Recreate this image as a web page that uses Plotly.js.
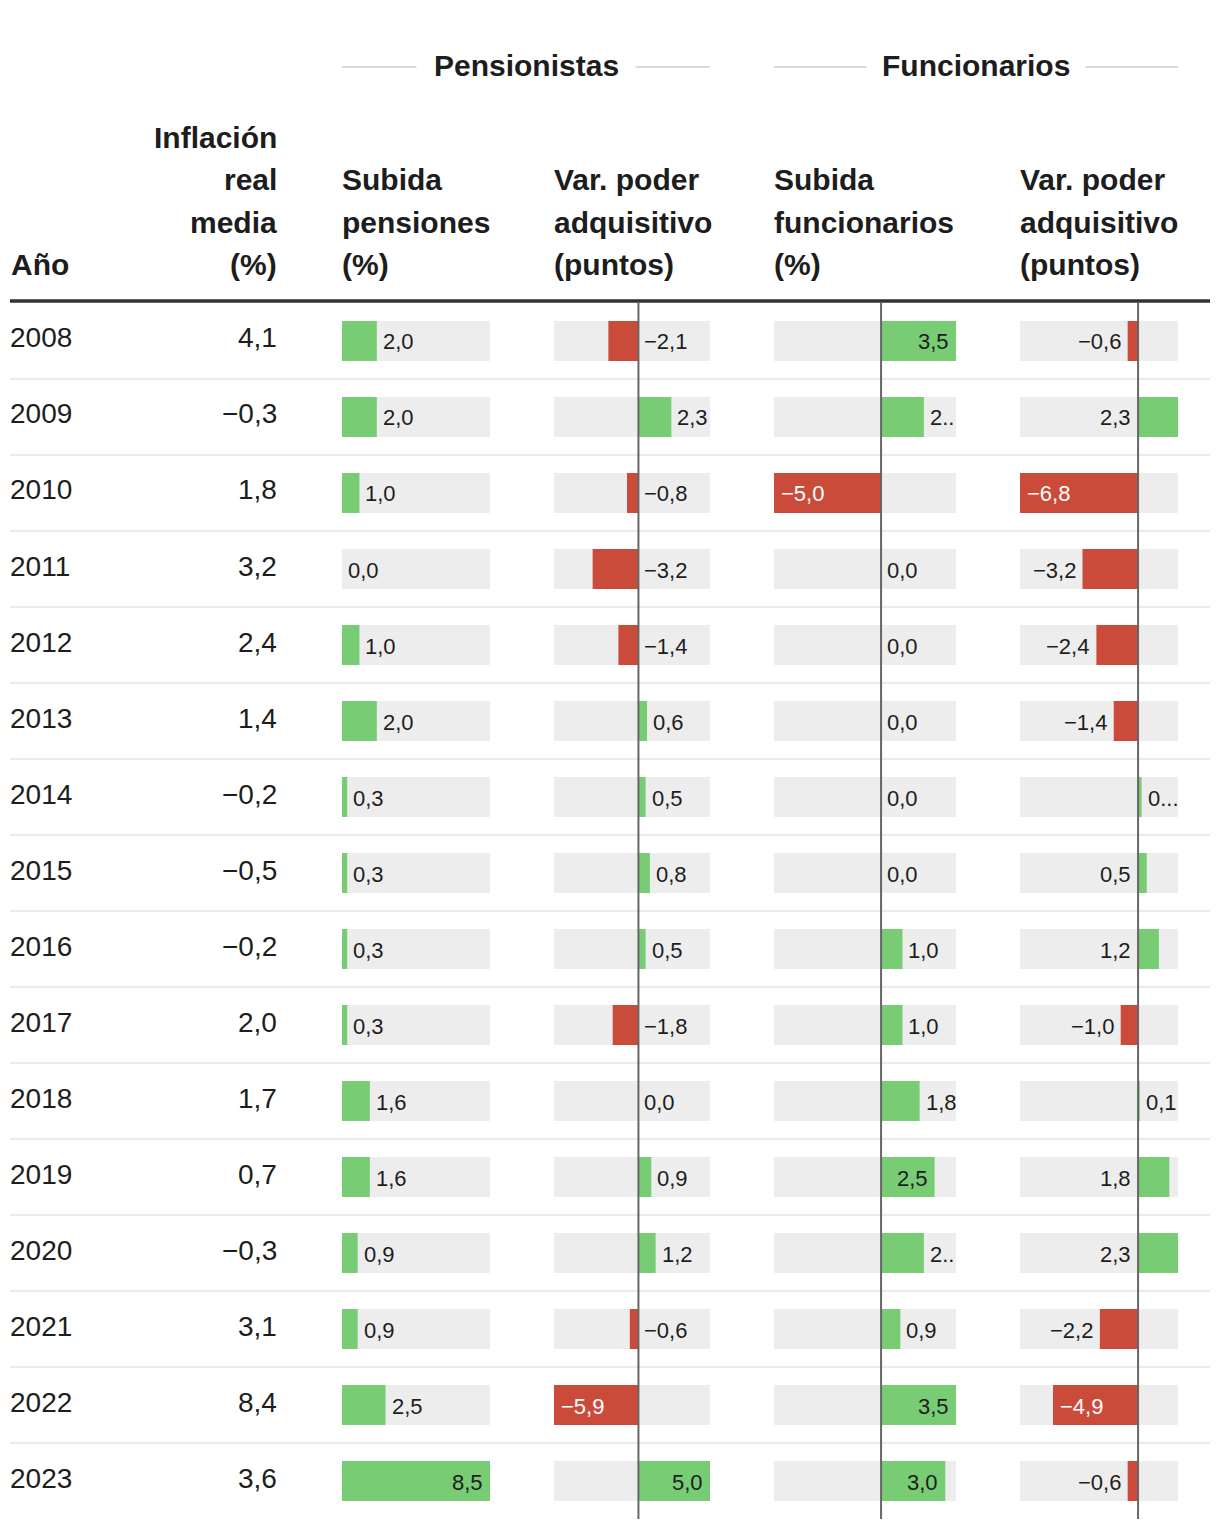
<!DOCTYPE html>
<html>
<head>
<meta charset="utf-8">
<script src="https://cdn.plot.ly/plotly-3.0.1.min.js"></script>
<style>
  html, body { margin: 0; padding: 0; background: #fff; }
  #chart { width: 1220px; height: 1528px; }
</style>
</head>
<body>
<div id="chart"></div>
<script>
// ---------------- DATA ----------------
const years = [2008, 2009, 2010, 2011, 2012, 2013, 2014, 2015, 2016, 2017, 2018, 2019, 2020, 2021, 2022, 2023];
const inflacion = [4.1, -0.3, 1.8, 3.2, 2.4, 1.4, -0.2, -0.5, -0.2, 2.0, 1.7, 0.7, -0.3, 3.1, 8.4, 3.6];
const subidaPensiones = [2.0, 2.0, 1.0, 0.0, 1.0, 2.0, 0.3, 0.3, 0.3, 0.3, 1.6, 1.6, 0.9, 0.9, 2.5, 8.5];
const poderPensionistas = [-2.1, 2.3, -0.8, -3.2, -1.4, 0.6, 0.5, 0.8, 0.5, -1.8, 0.0, 0.9, 1.2, -0.6, -5.9, 5.0];
const subidaFuncionarios = [3.5, 2.0, -5.0, 0.0, 0.0, 0.0, 0.0, 0.0, 1.0, 1.0, 1.8, 2.5, 2.0, 0.9, 3.5, 3.0];
const poderFuncionarios = [-0.6, 2.3, -6.8, -3.2, -2.4, -1.4, 0.2, 0.5, 1.2, -1.0, 0.1, 1.8, 2.3, -2.2, -4.9, -0.6];
// labels shown truncated in the original (column index, row index -> text)
const truncatedLabels = { "2-1": "2..", "2-12": "2..", "3-6": "0..." };

const groupTitles = ["Pensionistas", "Funcionarios"];
const headerAno = ["Año"];
const headerInflacion = ["Inflación", "real", "media", "(%)"];
const headerSubidaP = ["Subida", "pensiones", "(%)"];
const headerPoder = ["Var. poder", "adquisitivo", "(puntos)"];
const headerSubidaF = ["Subida", "funcionarios", "(%)"];

// ---------------- STYLE / LAYOUT ----------------
const W = 1220, H = 1528;
const GREEN = "#77cc74", RED = "#cb4b3a", BG = "#ededed", TXT = "#1d1d1d";
const BODY_FONT = "Liberation Sans, Arial, sans-serif";
const HEAD_FONT = "Liberation Sans, Arial, sans-serif";
const ROW_TOP = 303, ROW_H = 76;
const nRows = years.length;
const ROW_BOTTOM = ROW_TOP + ROW_H * nRows;
const px2x = p => p / W;
const px2y = p => 1 - p / H;

const columns = [
  { vals: subidaPensiones, dom: [342, 490] },
  { vals: poderPensionistas, dom: [554, 710], zero: true },
  { vals: subidaFuncionarios, dom: [774, 956], zero: true },
  { vals: poderFuncionarios, dom: [1020, 1178], zero: true }
];

const LS = 22, PAD = 6;
function textW(s, size) {
  let w = 0;
  for (const c of s) w += (c === ',' || c === '.') ? 0.278 : (c === '\u2212' ? 0.584 : 0.556);
  return w * size;
}
function fmt(v) {
  const s = Math.abs(v).toFixed(1).replace('.', ',');
  return (v < 0 ? '\u2212' : '') + s;
}

const rowIdx = years.map((_, i) => i);
const traces = [];
const annotations = [];
const shapes = [];
const layout = {
  width: W, height: H,
  margin: { l: 0, r: 0, t: 0, b: 0 },
  paper_bgcolor: "#fff", plot_bgcolor: "rgba(0,0,0,0)",
  showlegend: false, barmode: "overlay",
  yaxis: { domain: [px2y(ROW_BOTTOM), px2y(ROW_TOP)], range: [nRows - 0.5, -0.5], visible: false, fixedrange: true },
  annotations, shapes
};

columns.forEach((col, c) => {
  const axId = c === 0 ? "x" : "x" + (c + 1);
  const axName = c === 0 ? "xaxis" : "xaxis" + (c + 1);
  const lo = Math.min(0, ...col.vals), hi = Math.max(0, ...col.vals);
  layout[axName] = { domain: [px2x(col.dom[0]), px2x(col.dom[1])], range: [lo, hi], visible: false, fixedrange: true, anchor: "y" };
  const ppu = (col.dom[1] - col.dom[0]) / (hi - lo);
  const px = v => col.dom[0] + (v - lo) * ppu;

  // background track
  traces.push({
    type: "bar", orientation: "h", xaxis: axId, yaxis: "y",
    y: rowIdx, x: col.vals.map(() => hi - lo), base: col.vals.map(() => lo),
    width: 40 / ROW_H, marker: { color: BG, line: { width: 0 } }, hoverinfo: "skip"
  });
  // value bars
  traces.push({
    type: "bar", orientation: "h", xaxis: axId, yaxis: "y",
    y: rowIdx, x: col.vals,
    width: 40 / ROW_H, marker: { color: col.vals.map(v => v < 0 ? RED : GREEN), line: { width: 0 } }, hoverinfo: "skip"
  });

  if (col.zero) {
    shapes.push({ type: "line", layer: "above", xref: axId, yref: "paper", x0: 0, x1: 0,
      y0: px2y(ROW_BOTTOM), y1: px2y(ROW_TOP), line: { color: "#666", width: 2 } });
  }

  col.vals.forEach((v, i) => {
    const trunc = truncatedLabels[c + "-" + i];
    const label = trunc || fmt(v);
    const tw = textW(fmt(v), LS);
    let x, xshift, xanchor, color = TXT;
    if (v >= 0) {
      const barEnd = px(v);
      const outSpace = col.dom[1] - barEnd - PAD;
      if (trunc || outSpace >= tw - 3) { x = v; xshift = PAD; xanchor = "left"; }
      else if (barEnd - px(0) >= tw + 2 * PAD) { x = v; xshift = -PAD - 1; xanchor = "right"; }
      else { x = 0; xshift = -PAD - 1; xanchor = "right"; }
    } else {
      const barW = px(0) - px(v);
      if (barW >= tw + 2 * PAD + 2) { x = v; xshift = PAD + 1; xanchor = "left"; color = "#fff"; }
      else if (col.dom[1] - px(0) - PAD >= tw) { x = 0; xshift = PAD; xanchor = "left"; }
      else { x = v; xshift = -PAD - 1; xanchor = "right"; }
    }
    annotations.push({
      xref: axId, yref: "y", x, y: i, xshift, yshift: -1, xanchor, yanchor: "middle",
      text: label, showarrow: false, borderpad: 0, borderwidth: 0,
      font: { family: BODY_FONT, size: LS, color }
    });
  });
});

// year + inflation columns
years.forEach((yr, i) => {
  annotations.push({ xref: "paper", yref: "y", x: px2x(10), y: i, yshift: 3, xanchor: "left", yanchor: "middle",
    text: String(yr), showarrow: false, borderpad: 0, borderwidth: 0, font: { family: BODY_FONT, size: 28, color: TXT } });
  annotations.push({ xref: "paper", yref: "y", x: px2x(277), y: i, yshift: 3, xanchor: "right", yanchor: "middle",
    text: fmt(inflacion[i]), showarrow: false, borderpad: 0, borderwidth: 0, font: { family: BODY_FONT, size: 28, color: TXT } });
});

// row separators
for (let i = 1; i < nRows; i++) {
  shapes.push({ type: "line", layer: "below", xref: "paper", yref: "y", x0: px2x(10), x1: px2x(1210), y0: i - 0.5, y1: i - 0.5,
    line: { color: "#ebebeb", width: 2 } });
}
// header rule
shapes.push({ type: "line", xref: "paper", yref: "paper", x0: px2x(10), x1: px2x(1210), y0: px2y(301), y1: px2y(301),
  line: { color: "#333", width: 3.5 } });

// column headers (bottom-aligned)
const HEAD_SIZE = 30, LINE_GAP = 42, LAST_LINE_Y = 264;
const headers = [
  { x: 11, anchor: "left", lines: headerAno },
  { x: 277, anchor: "right", lines: headerInflacion },
  { x: 342, anchor: "left", lines: headerSubidaP },
  { x: 554, anchor: "left", lines: headerPoder },
  { x: 774, anchor: "left", lines: headerSubidaF },
  { x: 1020, anchor: "left", lines: headerPoder }
];
headers.forEach(h => {
  const n = h.lines.length;
  h.lines.forEach((t, k) => {
    annotations.push({ xref: "paper", yref: "paper", x: px2x(h.x), y: px2y(LAST_LINE_Y - (n - 1 - k) * LINE_GAP),
      xanchor: h.anchor, yanchor: "middle", text: "<b>" + t + "</b>", showarrow: false, borderpad: 0, borderwidth: 0,
      font: { family: HEAD_FONT, size: HEAD_SIZE, color: TXT } });
  });
});

// group titles with side rules
const groups = [
  { title: groupTitles[0], span: [342, 710] },
  { title: groupTitles[1], span: [774, 1178] }
];
groups.forEach(g => {
  const cx = (g.span[0] + g.span[1]) / 2;
  const tw = 185;
  annotations.push({ xref: "paper", yref: "paper", x: px2x(cx), y: px2y(66), xanchor: "center", yanchor: "middle",
    text: "<b>" + g.title + "</b>", showarrow: false, borderpad: 0, borderwidth: 0,
    font: { family: HEAD_FONT, size: HEAD_SIZE, color: TXT } });
  shapes.push({ type: "line", xref: "paper", yref: "paper", x0: px2x(g.span[0]), x1: px2x(cx - tw / 2 - 17),
    y0: px2y(67), y1: px2y(67), line: { color: "#cfcfcf", width: 1.5 } });
  shapes.push({ type: "line", xref: "paper", yref: "paper", x0: px2x(cx + tw / 2 + 17), x1: px2x(g.span[1]),
    y0: px2y(67), y1: px2y(67), line: { color: "#cfcfcf", width: 1.5 } });
});

Plotly.newPlot("chart", traces, layout, { staticPlot: true, displayModeBar: false });
</script>
</body>
</html>
